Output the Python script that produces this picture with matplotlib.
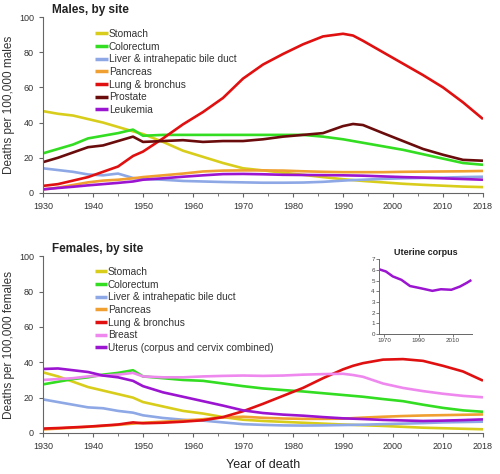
import numpy as np
import matplotlib
matplotlib.use("Agg")
import matplotlib.pyplot as plt
from matplotlib.ticker import MultipleLocator

plt.rcParams['font.family'] = ['Liberation Sans', 'DejaVu Sans']

# -----------------------------
# Data
# -----------------------------
years = [1930, 1933, 1936, 1939, 1942, 1945, 1948, 1950, 1954, 1958, 1962, 1966, 1970,
         1974, 1978, 1982, 1986, 1990, 1992, 1994, 1998, 2002, 2006, 2010, 2014, 2018]

# males
m_stomach = [46.5, 45, 44, 42, 40, 37.5, 35, 33.5, 29, 24, 20.5, 17, 14,
             12.8, 11.5, 10.3, 9.0, 7.8, 7.3, 6.8, 6.0, 5.2, 4.6, 4.1, 3.6, 3.3]
m_colorectum = [22.5, 25, 27.5, 31, 32.5, 34, 36, 32.5, 33, 33, 33, 33, 33,
                33, 33, 33, 32, 30.5, 29.5, 28.5, 26.5, 24.5, 22, 19.5, 17, 16]
m_liver = [14, 13, 12, 10.5, 10, 11, 8.5, 8, 7.5, 6.8, 6.5, 6.2, 6,
           5.8, 5.8, 5.9, 6.3, 7, 7.3, 7.5, 8, 8.3, 8.5, 8.7, 9, 9.2]
m_pancreas = [2, 3, 4.5, 6, 7, 7.5, 8.3, 9, 10, 11, 12.2, 12.7, 12.8,
              12.8, 12.7, 12.3, 12, 11.8, 11.8, 11.8, 11.8, 12, 12.1, 12.2, 12.3, 12.5]
m_lung = [4, 5, 7, 9, 12, 15, 21, 23.5, 31, 39, 46, 54, 65,
          73, 79, 84.5, 89, 90.5, 89.5, 86.5, 80, 73.5, 67, 60, 51.5, 42]
m_prostate = [17.5, 20, 23, 26, 27, 29.5, 32, 29, 29.5, 30, 29, 29.5, 29.5,
              30.5, 32, 33, 34, 38, 39.2, 38.6, 34, 29.5, 25, 21.7, 18.8, 18.3]
m_leukemia = [2, 2.8, 3.5, 4.3, 5, 5.7, 6.5, 7.5, 8.3, 9.2, 10, 10.7, 10.8,
              10.6, 10.3, 10.2, 10.1, 10, 9.9, 9.8, 9.4, 9, 8.7, 8.3, 7.9, 7.5]

# females
f_stomach = [34.3, 32, 29, 26, 24, 22, 20, 17.5, 15, 12.5, 11, 9, 7.5,
             6.8, 6.3, 5.8, 5.3, 4.8, 4.6, 4.4, 4, 3.5, 3, 2.7, 2.4, 2.1]
f_colorectum = [27.5, 29, 30.5, 31.5, 33, 34, 35.5, 32, 31, 30, 29.5, 28, 26.5,
                25.2, 24.3, 23.5, 22.5, 21.5, 21, 20.5, 19.2, 18, 16, 14.2, 12.8, 12]
f_liver = [19, 17.5, 16, 14.5, 14, 12.5, 11.5, 10, 8.5, 7.5, 7, 6, 5,
           4.6, 4.3, 4.2, 4.3, 4.5, 4.6, 4.7, 5, 5.3, 5.6, 6, 6.2, 6.4]
f_pancreas = [2, 2.5, 3, 3.5, 4, 4.6, 5.3, 5.8, 6.4, 7, 7.8, 8.8, 9.2,
              8.6, 8.2, 8, 8, 8.1, 8.4, 8.7, 9.2, 9.6, 9.9, 10.1, 10.3, 10.5]
f_lung = [2.5, 2.8, 3.2, 3.6, 4.2, 4.8, 6, 5.5, 5.8, 6.4, 7.2, 9, 12.3,
          16.5, 21, 25.5, 31, 36, 38, 39.5, 41.5, 41.8, 40.8, 38, 34.8, 29.6]
f_breast = [30, 30.5, 31, 32, 32.5, 33, 34, 32, 31.5, 31.5, 32, 32.3, 32.5,
            32.3, 32.5, 33, 33.3, 33.5, 32.8, 31.8, 28, 25.5, 23.7, 22.2, 21, 20.2]
f_uterus = [36.2, 36.5, 35.5, 34.5, 32.5, 31.5, 29.5, 26.5, 23, 20.5, 18, 15.5, 12.8,
            11.3, 10.4, 9.8, 9, 8.3, 8.1, 7.9, 7.4, 7.1, 6.8, 7, 7.3, 7.7]

# inset: uterine corpus
inset_years = [1967, 1971, 1975, 1980, 1985, 1991, 1998, 2003, 2009, 2014, 2018, 2020]
inset_vals = [6.07, 5.86, 5.4, 5.08, 4.5, 4.3, 4.05, 4.2, 4.15, 4.45, 4.8, 5.0]

x_ticks = [1930, 1940, 1950, 1960, 1970, 1980, 1990, 2000, 2010, 2018]

YELLOW = '#d9cd1c'
GREEN = '#33dd22'
BLUE = '#8ea8e6'
ORANGE = '#f0a030'
RED = '#e01010'
BROWN = '#6a0c0c'
PURPLE = '#9b14d0'
PINK = '#ee88ee'

males = [
    ("Stomach", m_stomach, YELLOW),
    ("Colorectum", m_colorectum, GREEN),
    ("Liver & intrahepatic bile duct", m_liver, BLUE),
    ("Pancreas", m_pancreas, ORANGE),
    ("Lung & bronchus", m_lung, RED),
    ("Prostate", m_prostate, BROWN),
    ("Leukemia", m_leukemia, PURPLE),
]
females = [
    ("Stomach", f_stomach, YELLOW),
    ("Colorectum", f_colorectum, GREEN),
    ("Liver & intrahepatic bile duct", f_liver, BLUE),
    ("Pancreas", f_pancreas, ORANGE),
    ("Lung & bronchus", f_lung, RED),
    ("Breast", f_breast, PINK),
    ("Uterus (corpus and cervix combined)", f_uterus, PURPLE),
]


def style_axis(ax, ylabel):
    ax.set_xlim(1930, 2018)
    ax.set_ylim(0, 100)
    ax.set_xticks(x_ticks)
    ax.xaxis.set_minor_locator(MultipleLocator(5))
    ax.set_yticks(range(0, 101, 20))
    for s in ['top', 'right']:
        ax.spines[s].set_visible(False)
    for s in ['left', 'bottom']:
        ax.spines[s].set_color('#666666')
        ax.spines[s].set_linewidth(0.8)
    ax.tick_params(colors='#666666', labelcolor='#333333', labelsize=6.5,
                   length=3, width=0.8)
    ax.tick_params(which='minor', colors='#666666', length=2, width=0.6)
    ax.set_ylabel(ylabel, fontsize=8.5, color='#333333', labelpad=3)


def draw_panel(ax, series, title, ylabel, legend_anchor):
    for label, vals, color in series:
        ax.plot(years, vals, color=color, lw=1.9, label=label,
                solid_capstyle='butt')
    style_axis(ax, ylabel)
    ax.text(0.02, 1.04, title, transform=ax.transAxes, fontsize=8.5,
            fontweight='bold', color='#222222', va='center')
    leg = ax.legend(loc='upper left', bbox_to_anchor=legend_anchor,
                    frameon=False, fontsize=7.3, handlelength=1.2,
                    handletextpad=0.1, labelspacing=0.26, borderaxespad=0)
    for h in leg.get_lines():
        h.set_linewidth(2.5)
    for t in leg.get_texts():
        t.set_color('#333333')


fig = plt.figure(figsize=(5, 4.74), dpi=100)

ax1 = fig.add_axes([0.086, 0.593, 0.88, 0.371])
draw_panel(ax1, males, "Males, by site", "Deaths per 100,000 males",
           (0.11, 0.955))

ax2 = fig.add_axes([0.086, 0.0865, 0.88, 0.373])
draw_panel(ax2, females, "Females, by site", "Deaths per 100,000 females",
           (0.108, 0.962))
ax2.set_xlabel("Year of death", fontsize=9, color='#222222', labelpad=6)

# inset
ax3 = fig.add_axes([0.758, 0.295, 0.186, 0.158])
ax3.plot(inset_years, inset_vals, color=PURPLE, lw=1.8)
ax3.set_xlim(1967, 2021)
ax3.set_ylim(0, 7)
ax3.set_xticks([1970, 1990, 2010])
ax3.set_yticks(range(0, 8))
for s in ['top', 'right']:
    ax3.spines[s].set_visible(False)
for s in ['left', 'bottom']:
    ax3.spines[s].set_color('#666666')
    ax3.spines[s].set_linewidth(0.7)
ax3.tick_params(colors='#666666', labelcolor='#444444', labelsize=4.5,
                length=2, width=0.6, pad=1)
ax3.set_title("Uterine corpus", fontsize=6.5, fontweight='bold',
              color='#222222', pad=3)

fig.savefig("out.png", dpi=100)
